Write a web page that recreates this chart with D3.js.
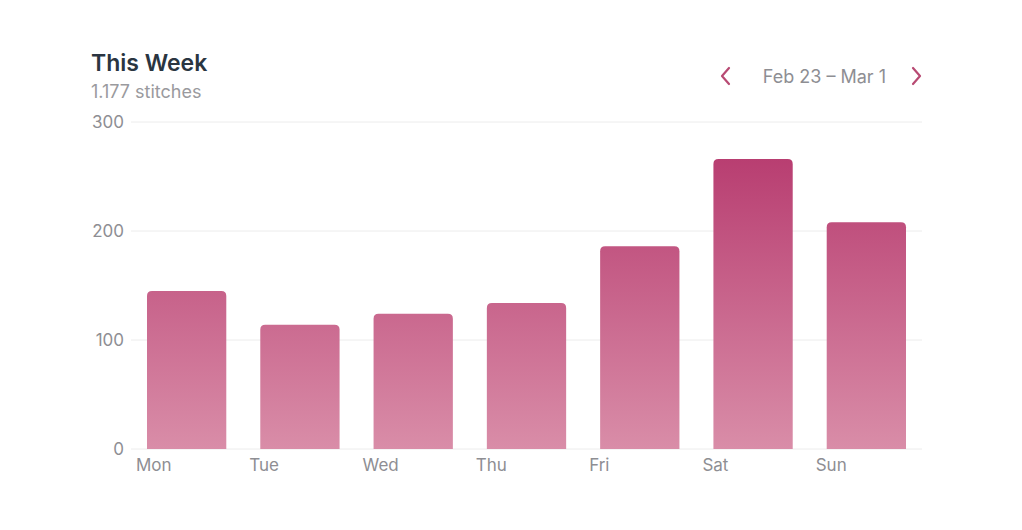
<!DOCTYPE html>
<html><head><meta charset="utf-8">
<script src="https://cdn.jsdelivr.net/npm/d3@7"></script>
<style>body{margin:0;background:#fff;font-family:Inter,"Noto Sans",sans-serif}</style>
</head><body><svg id="c" width="1022" height="530"></svg>
<script>
const categories=["Mon","Tue","Wed","Thu","Fri","Sat","Sun"];
const values=[145,114,124,134,186,266,208];
const yTicks=[0,100,200,300];
const title="This Week", subtitle="1.177 stitches", range="Feb 23 – Mar 1";

const svg=d3.select("#c");
const x=d3.scaleBand().domain(categories).range([130,923]).paddingInner(0.3).paddingOuter(0.15);
const y=d3.scaleLinear().domain([0,300]).range([449,122]);
const defs=svg.append("defs");
const g=defs.append("linearGradient").attr("id","gr").attr("x1",0).attr("y1",0).attr("x2",0).attr("y2",1).attr("gradientUnits","userSpaceOnUse")
 .attr("y1",y(300)).attr("y2",y(0));
g.append("stop").attr("offset","0").attr("stop-color","#b4346a");
g.append("stop").attr("offset","1").attr("stop-color","#d98da8");

svg.selectAll(".grid").data(yTicks).join("line").attr("x1",131).attr("x2",922)
 .attr("y1",d=>y(d)).attr("y2",d=>y(d)).attr("stroke","#ececec").attr("stroke-width",1);
svg.selectAll(".yl").data(yTicks).join("text").attr("x",124).attr("y",d=>y(d)+6)
 .attr("text-anchor","end").attr("font-size",17).attr("fill","#8e8e93").text(d=>d);

const r=5;
svg.selectAll(".bar").data(values).join("path").attr("fill","url(#gr)")
 .attr("d",(d,i)=>{const x0=x(categories[i]),w=x.bandwidth(),t=y(d),b=y(0);
  return `M${x0},${b}V${t+r}Q${x0},${t} ${x0+r},${t}H${x0+w-r}Q${x0+w},${t} ${x0+w},${t+r}V${b}Z`;});
svg.selectAll(".xl").data(categories).join("text").attr("x",d=>x(d)-11).attr("y",471)
 .attr("font-size",17).attr("fill","#8e8e93").text(d=>d);

svg.append("text").attr("x",91).attr("y",71).attr("font-size",23).attr("font-weight",600).attr("fill","#2a3541").text(title);
svg.append("text").attr("x",91).attr("y",98).attr("font-size",18).attr("fill","#9a9a9e").text(subtitle);
svg.append("text").attr("x",886).attr("y",83).attr("text-anchor","end").attr("font-size",18).attr("fill","#8e8e93").text(range);
svg.append("path").attr("d","M729,68L722,76L729,84").attr("fill","none").attr("stroke","#b84a73").attr("stroke-width",2.2).attr("stroke-linecap","round").attr("stroke-linejoin","round");
svg.append("path").attr("d","M913,68L920,76L913,84").attr("fill","none").attr("stroke","#b84a73").attr("stroke-width",2.2).attr("stroke-linecap","round").attr("stroke-linejoin","round");
</script></body></html>
